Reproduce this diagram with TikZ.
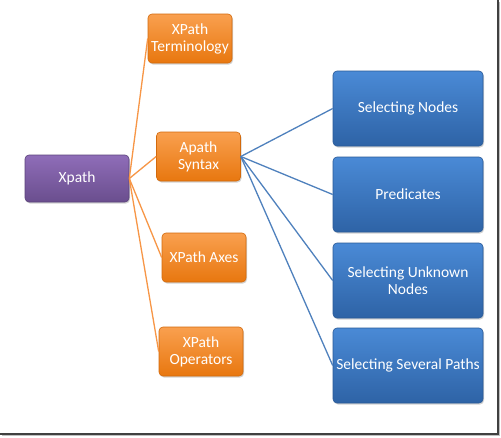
\documentclass[tikz,border=0pt]{standalone}
\usepackage{fontspec}
\setmainfont{Carlito}
\usetikzlibrary{shadows}
\definecolor{orgA}{HTML}{F9A04F}
\definecolor{orgB}{HTML}{E8770F}
\definecolor{orgE}{HTML}{D36A0C}
\definecolor{orgL}{HTML}{F79646}
\definecolor{bluA}{HTML}{4A8AD6}
\definecolor{bluB}{HTML}{2E63A6}
\definecolor{bluE}{HTML}{2A5A97}
\definecolor{bluL}{HTML}{4F81BD}
\definecolor{purA}{HTML}{8F6DB8}
\definecolor{purB}{HTML}{6A4E8E}
\definecolor{purE}{HTML}{5B437A}
\tikzset{
  box/.style={rounded corners=4pt, text=white, align=center, inner sep=1pt,
    font=\fontsize{15.5}{17}\selectfont, drop shadow={shadow xshift=1pt, shadow yshift=-1.5pt, opacity=0.35}},
  purbox/.style={box, top color=purA, bottom color=purB, draw=purE, line width=0.6pt,
    minimum width=104pt, minimum height=47pt},
  orgbox/.style={box, top color=orgA, bottom color=orgB, draw=orgE, line width=0.6pt,
    minimum width=84pt, minimum height=49pt},
  blubox/.style={box, top color=bluA, bottom color=bluB, draw=bluE, line width=0.6pt,
    minimum width=150pt, minimum height=75pt},
  olink/.style={draw=orgL, line width=1.3pt},
  blink/.style={draw=bluL, line width=1.3pt}
}
\begin{document}
\begin{tikzpicture}[x=1pt, y=-1pt]
\useasboundingbox (0,0) rectangle (501,437);
\fill[white] (0,0) rectangle (501,437);
% frame shadow
\fill[black!75] (496.5,0) rectangle (498.5,434.5);
\fill[black!75] (0,432.5) rectangle (498.5,434.5);
\fill[black!25] (498.5,2) rectangle (500,436);
\fill[black!25] (2,434.5) rectangle (500,436);

\node[purbox] (xp) at (77,178.5) {Xpath};
\node[orgbox] (term) at (190,38.5) {XPath\\Terminology};
\node[orgbox] (syn) at (198.5,156.5) {Apath\\Syntax};
\node[orgbox] (axes) at (204,257.5) {XPath Axes};
\node[orgbox] (ops) at (201,351.5) {XPath\\Operators};
\node[blubox] (sn) at (408,108.5) {Selecting Nodes};
\node[blubox] (pr) at (408,194.5) {Predicates};
\node[blubox] (su) at (408,280.5) {Selecting Unknown\\Nodes};
\node[blubox] (ss) at (408,365.5) {Selecting Several Paths};

\foreach \t in {term,syn,axes,ops} \draw[olink] (xp.east) -- (\t.west);
\foreach \t in {sn,pr,su,ss} \draw[blink] (syn.east) -- (\t.west);
\end{tikzpicture}
\end{document}
